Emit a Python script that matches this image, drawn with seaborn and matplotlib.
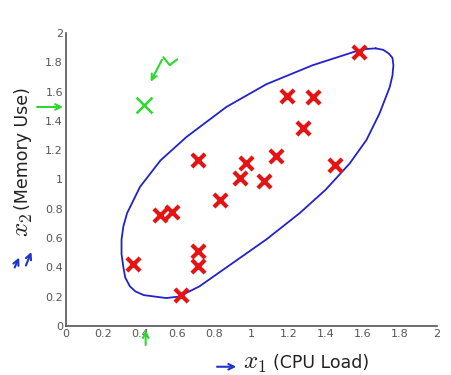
import matplotlib
matplotlib.use("Agg")
import matplotlib.pyplot as plt
import seaborn as sns
import pandas as pd

# Data points (CPU load, memory use)
cpu_load = [1.58, 1.19, 1.33, 1.28, 0.71, 0.97, 1.13, 1.45, 0.94, 1.07,
            0.83, 0.51, 0.57, 0.71, 0.71, 0.36, 0.62]
memory_use = [1.87, 1.57, 1.56, 1.35, 1.13, 1.11, 1.16, 1.10, 1.01, 0.99,
              0.86, 0.76, 0.78, 0.51, 0.41, 0.42, 0.21]

# Hand-drawn blue boundary (traced)
curve_x = [1.67, 1.71, 1.74, 1.76, 1.765, 1.76, 1.745, 1.69, 1.62, 1.53,
           1.40, 1.26, 1.08, 0.90, 0.72, 0.61, 0.54, 0.42, 0.375, 0.345,
           0.32, 0.31, 0.30, 0.30, 0.31, 0.33, 0.40, 0.51, 0.65, 0.865,
           1.08, 1.33, 1.55, 1.61, 1.67]
curve_y = [1.895, 1.885, 1.86, 1.83, 1.78, 1.71, 1.63, 1.45, 1.27, 1.11,
           0.93, 0.77, 0.59, 0.43, 0.27, 0.20, 0.19, 0.21, 0.235, 0.27,
           0.33, 0.40, 0.49, 0.59, 0.68, 0.77, 0.95, 1.13, 1.29, 1.495,
           1.65, 1.78, 1.87, 1.89, 1.895]

# Green anomaly annotation
anomaly_x = [0.42]
anomaly_y = [1.51]
squiggle_x = [0.60, 0.56, 0.525]
squiggle_y = [1.82, 1.78, 1.835]

ticks = [0, 0.2, 0.4, 0.6, 0.8, 1, 1.2, 1.4, 1.6, 1.8, 2]
tick_labels = ["0", "0.2", "0.4", "0.6", "0.8", "1", "1.2", "1.4", "1.6", "1.8", "2"]

sns.set_style("white")
plt.rcParams["mathtext.fontset"] = "cm"

fig = plt.figure(figsize=(4.51, 3.75), dpi=100)
ax = fig.add_axes([0.146, 0.131, 0.823, 0.781])

df = pd.DataFrame({"cpu": cpu_load, "mem": memory_use})
sns.scatterplot(data=df, x="cpu", y="mem", marker="x", s=90, linewidth=3,
                color="#e41414", ax=ax, zorder=3)

curve = pd.DataFrame({"x": curve_x, "y": curve_y})
sns.lineplot(data=curve, x="x", y="y", sort=False, estimator=None,
             color="#2222cc", linewidth=1.3, ax=ax, zorder=2)

green = "#2ed82e"
sns.scatterplot(x=anomaly_x, y=anomaly_y, marker="x", s=130, linewidth=1.8,
                color=green, ax=ax, zorder=3)
ax.plot(squiggle_x, squiggle_y, color=green, linewidth=1.5)
ax.annotate("", xy=(0.45, 1.65), xytext=(squiggle_x[-1], squiggle_y[-1]),
            arrowprops=dict(arrowstyle="->", color=green, lw=1.5))
ax.annotate("", xy=(0.0, 1.495), xytext=(-0.17, 1.495),
            arrowprops=dict(arrowstyle="->", color=green, lw=1.5),
            annotation_clip=False)
ax.annotate("", xy=(0.43, -0.01), xytext=(0.43, -0.15),
            arrowprops=dict(arrowstyle="->", color=green, lw=1.5),
            annotation_clip=False)

ax.set_xlim(0, 2)
ax.set_ylim(0, 2)
ax.set_xticks(ticks)
ax.set_xticklabels(tick_labels)
ax.set_yticks(ticks)
ax.set_yticklabels(tick_labels)
ax.tick_params(direction="in", length=4, width=1, colors="#555555",
               labelsize=8, pad=2)
for side in ["top", "right"]:
    ax.spines[side].set_visible(False)
for side in ["left", "bottom"]:
    ax.spines[side].set_color("#555555")
    ax.spines[side].set_linewidth(1.2)

# axis labels: math symbol drawn larger than the words, as in the reference
ax.set_xlabel("")
ax.set_ylabel("")
fig.text(0.565, 0.031, r"$x_1$", fontsize=18, color="#222222", ha="center", va="center")
fig.text(0.712, 0.031, "(CPU Load)", fontsize=12.5, color="#222222", ha="center", va="center")
fig.text(0.052, 0.40, r"$x_2$", fontsize=18, color="#222222", ha="center", va="center",
         rotation=90)
fig.text(0.052, 0.605, "(Memory Use)", fontsize=12.5, color="#222222", ha="center",
         va="center", rotation=90)

# blue hand arrows near labels
blue = "#2233cc"
arrow = dict(arrowstyle="->", color=blue, lw=1.5)
ax.annotate("", xy=(0.53, 0.022), xytext=(0.475, 0.022), xycoords="figure fraction",
            textcoords="figure fraction", arrowprops=arrow)
ax.annotate("", xy=(0.045, 0.32), xytext=(0.03, 0.28), xycoords="figure fraction",
            textcoords="figure fraction", arrowprops=arrow)
ax.annotate("", xy=(0.072, 0.335), xytext=(0.055, 0.285), xycoords="figure fraction",
            textcoords="figure fraction", arrowprops=arrow)

fig.savefig("out.png", dpi=100)
